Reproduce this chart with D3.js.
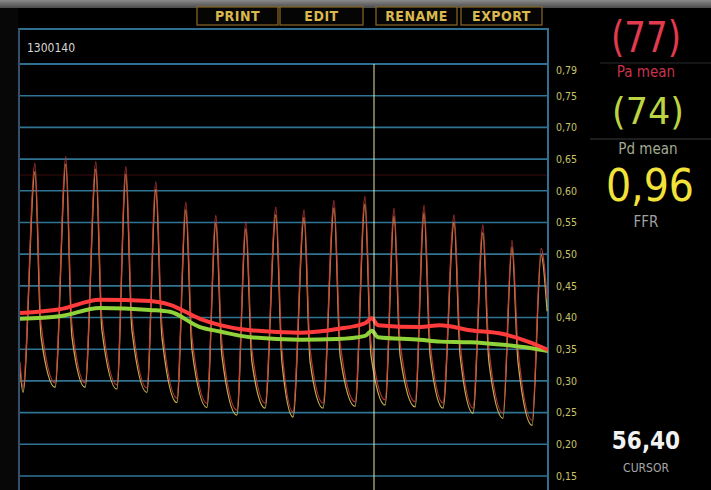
<!DOCTYPE html>
<html>
<head>
<meta charset="utf-8">
<script src="https://cdn.jsdelivr.net/npm/d3@7"></script>
<style>
  body { margin: 0; background: #000; overflow: hidden; }
  svg { display: block; }
  text { font-family: "Liberation Sans Narrow", "DejaVu Sans Condensed", "Liberation Sans", sans-serif; }
</style>
</head>
<body>
<svg id="chart" width="711" height="490"></svg>
<script>
// ---- data (time in s, pressure ratio units) ----
const troughT = [44.70, 45.77, 46.77, 47.83, 48.83, 49.83, 50.83, 51.83, 52.77, 53.70, 54.70, 55.77, 56.77, 57.77, 58.70, 59.70, 60.70, 61.67];
const peakT   = [45.10, 46.13, 47.13, 48.13, 49.13, 50.13, 51.13, 52.13, 53.13, 54.07, 55.07, 56.10, 57.07, 58.07, 59.07, 60.03, 61.00, 61.97];
const kneeT   = [45.30, 46.33, 47.33, 48.33, 49.33, 50.33, 51.33, 52.33, 53.33, 54.27, 55.27, 56.30, 57.27, 58.27, 59.27, 60.23, 61.20, 62.17];

const paTrough = [0.289, 0.297, 0.297, 0.294, 0.289, 0.273, 0.265, 0.254, 0.265, 0.251, 0.265, 0.267, 0.270, 0.267, 0.265, 0.257, 0.249, 0.238];
const paPeak   = [0.643, 0.654, 0.646, 0.638, 0.614, 0.582, 0.561, 0.551, 0.574, 0.570, 0.585, 0.591, 0.572, 0.577, 0.562, 0.546, 0.522, 0.509];
const paKnee   = [0.39, 0.39, 0.40, 0.40, 0.39, 0.37, 0.36, 0.35, 0.35, 0.35, 0.36, 0.36, 0.36, 0.36, 0.36, 0.35, 0.35, 0.43];

const pdTrough = [0.282, 0.290, 0.290, 0.287, 0.282, 0.266, 0.258, 0.246, 0.257, 0.243, 0.257, 0.260, 0.262, 0.259, 0.257, 0.249, 0.241, 0.230];
const pdPeak   = [0.630, 0.642, 0.634, 0.626, 0.602, 0.570, 0.549, 0.540, 0.562, 0.558, 0.573, 0.579, 0.560, 0.565, 0.550, 0.534, 0.511, 0.498];
const pdKnee   = [0.37, 0.37, 0.38, 0.38, 0.37, 0.35, 0.34, 0.33, 0.33, 0.33, 0.34, 0.34, 0.34, 0.34, 0.34, 0.33, 0.33, 0.41];

const startT = 44.60, paStart = 0.33, pdStart = 0.32;

const meanT  = [44.60, 45.93, 47.27, 48.93, 49.60, 50.60, 51.27, 52.27, 53.93, 55.17, 56.10, 56.33, 56.53, 57.93, 58.60, 59.60, 60.70, 61.60, 62.20];
const paMean = [0.407, 0.413, 0.428, 0.426, 0.420, 0.398, 0.388, 0.380, 0.376, 0.382, 0.391, 0.399, 0.388, 0.385, 0.388, 0.380, 0.374, 0.361, 0.349];
const pdMean = [0.398, 0.402, 0.415, 0.412, 0.409, 0.385, 0.378, 0.369, 0.365, 0.366, 0.371, 0.379, 0.369, 0.365, 0.362, 0.361, 0.357, 0.352, 0.347];

const gridVals  = [0.75, 0.70, 0.65, 0.60, 0.55, 0.50, 0.45, 0.40, 0.35, 0.30, 0.25, 0.20, 0.15];
const tickVals  = [0.79, 0.75, 0.70, 0.65, 0.60, 0.55, 0.50, 0.45, 0.40, 0.35, 0.30, 0.25, 0.20, 0.15];
const cursorT = 56.40;
const buttons = ["PRINT", "EDIT", "RENAME", "EXPORT"];
const recordId = "1300140";
const paMeanLabel = "(77)", pdMeanLabel = "(74)", ffrLabel = "0,96";

// ---- layout ----
const W = 711, H = 490;
const plot = { left: 20, right: 548, top: 64, bottom: 490 };

const svg = d3.select("#chart");
const fmt = d => d.toFixed(2).replace(".", ",");

const x = d3.scaleLinear().domain([44.60, 62.20]).range([plot.left, plot.right]);
const y = d3.scaleLinear().domain([0.15, 0.80]).range([476, plot.top]);

// background
svg.append("rect").attr("width", W).attr("height", H).attr("fill", "#000");
svg.append("rect").attr("width", 18).attr("y", 8).attr("height", H).attr("fill", "#070707");

// top grey strip
const defs = svg.append("defs");
const grad = defs.append("linearGradient").attr("id", "topbar").attr("x1", 0).attr("x2", 0).attr("y1", 0).attr("y2", 1);
grad.append("stop").attr("offset", "0%").attr("stop-color", "#8a8a8a");
grad.append("stop").attr("offset", "100%").attr("stop-color", "#4a4a4a");
svg.append("rect").attr("width", W).attr("height", 8).attr("fill", "url(#topbar)");

// buttons
const btnX = [197, 280, 376, 461], btnW = [81, 83, 81, 81];
const btn = svg.append("g").selectAll("g").data(buttons).join("g");
btn.append("rect")
  .attr("x", (d, i) => btnX[i]).attr("y", 7).attr("width", (d, i) => btnW[i]).attr("height", 18)
  .attr("fill", "#050505").attr("stroke", "#8a6a24").attr("stroke-width", 1.2);
btn.append("text")
  .attr("x", (d, i) => btnX[i] + btnW[i] / 2).attr("y", 21)
  .attr("text-anchor", "middle").attr("fill", "#d9b84e")
  .attr("font-size", 14).attr("font-weight", "bold").attr("letter-spacing", 0.5)
  .text(d => d);

// title box
svg.append("rect").attr("x", 19).attr("y", 29).attr("width", 529).attr("height", 35)
  .attr("fill", "#000").attr("stroke", "#2f6f90").attr("stroke-width", 2);
svg.append("text").attr("x", 27).attr("y", 52).attr("fill", "#d8d8d8").attr("font-size", 12).text(recordId);

// clip
defs.append("clipPath").attr("id", "clip").append("rect")
  .attr("x", plot.left).attr("y", plot.top).attr("width", plot.right - plot.left).attr("height", plot.bottom - plot.top);

// grid
const grid = svg.append("g");
grid.selectAll("line.major").data(gridVals).join("line").attr("class", "major")
  .attr("x1", plot.left).attr("x2", plot.right)
  .attr("y1", d => y(d)).attr("y2", d => y(d))
  .attr("stroke", "#2f7493").attr("stroke-width", 1.6);
grid.append("line").attr("x1", plot.left).attr("x2", plot.right)
  .attr("y1", y(0.625)).attr("y2", y(0.625)).attr("stroke", "#2a0909").attr("stroke-width", 1.5);

// frame verticals
svg.append("line").attr("x1", 19).attr("x2", 19).attr("y1", 29).attr("y2", H).attr("stroke", "#34506a").attr("stroke-width", 2);
svg.append("line").attr("x1", 548).attr("x2", 548).attr("y1", 29).attr("y2", H).attr("stroke", "#2f6f90").attr("stroke-width", 2);

// y tick labels
const axis = d3.axisRight(y).tickValues(tickVals).tickFormat(fmt).tickSize(0).tickPadding(0);
const ax = svg.append("g").attr("transform", "translate(556,0)").call(axis);
ax.select(".domain").remove();
ax.selectAll("text").attr("fill", "#c9c46a").attr("font-size", 10.5)
  .attr("font-family", "\"Liberation Sans Narrow\", \"DejaVu Sans Condensed\", sans-serif");

// build pulsatile series from read key points
function buildSeries(start, tr, pk, kn) {
  const pts = [[startT, start]];
  troughT.forEach((t, i) => {
    pts.push([t, tr[i]]);
    pts.push([peakT[i], pk[i]]);
    pts.push([kneeT[i], kn[i]]);
  });
  return pts;
}
const paSeries = buildSeries(paStart, paTrough, paPeak, paKnee);
const pdSeries = buildSeries(pdStart, pdTrough, pdPeak, pdKnee);

const line = d3.line().x(d => x(d[0])).y(d => y(d[1])).curve(d3.curveMonotoneX);
const traces = svg.append("g").attr("clip-path", "url(#clip)");

traces.append("path").datum(pdSeries).attr("d", line)
  .attr("fill", "none").attr("stroke", "#d6bf55").attr("stroke-width", 1.3).attr("opacity", 0.9);
traces.append("path").datum(paSeries).attr("d", line)
  .attr("fill", "none").attr("stroke", "#c8383a").attr("stroke-width", 1.3).attr("opacity", 0.9);

const meanLine = d3.line().x(d => x(d[0])).y(d => y(d[1])).curve(d3.curveMonotoneX);
traces.append("path").datum(meanT.map((t, i) => [t, pdMean[i]])).attr("d", meanLine)
  .attr("fill", "none").attr("stroke", "#8fd23a").attr("stroke-width", 4);
traces.append("path").datum(meanT.map((t, i) => [t, paMean[i]])).attr("d", meanLine)
  .attr("fill", "none").attr("stroke", "#ff3b3b").attr("stroke-width", 4);

// cursor
svg.append("line").attr("x1", x(cursorT)).attr("x2", x(cursorT)).attr("y1", plot.top).attr("y2", H)
  .attr("stroke", "#e6e6a8").attr("stroke-width", 1);

// right panel
const rp = svg.append("g");
rp.append("line").attr("x1", 600).attr("x2", W).attr("y1", 63).attr("y2", 63).attr("stroke", "#2a2a2a");
rp.append("line").attr("x1", 590).attr("x2", W).attr("y1", 139).attr("y2", 139).attr("stroke", "#3a3a3a");
const cx = 646;
rp.append("text").attr("x", cx).attr("y", 52).attr("text-anchor", "middle")
  .attr("fill", "#e23a4e").attr("font-size", 42)
  .attr("textLength", 70).attr("lengthAdjust", "spacingAndGlyphs").text(paMeanLabel);
rp.append("text").attr("x", cx).attr("y", 77).attr("text-anchor", "middle")
  .attr("fill", "#c9324a").attr("font-size", 15).text("Pa mean");
rp.append("text").attr("x", 648).attr("y", 124).attr("text-anchor", "middle")
  .attr("fill", "#bcd342").attr("font-size", 38)
  .attr("textLength", 72).attr("lengthAdjust", "spacingAndGlyphs").text(pdMeanLabel);
rp.append("text").attr("x", 648).attr("y", 154).attr("text-anchor", "middle")
  .attr("fill", "#a3aa92").attr("font-size", 15).text("Pd mean");
rp.append("text").attr("x", 650).attr("y", 201).attr("text-anchor", "middle")
  .attr("fill", "#f2e23a").attr("font-size", 44).text(ffrLabel);
rp.append("text").attr("x", 646).attr("y", 227).attr("text-anchor", "middle")
  .attr("fill", "#a0a0a0").attr("font-size", 15).text("FFR");
rp.append("text").attr("x", 646).attr("y", 449).attr("text-anchor", "middle")
  .attr("fill", "#f2f2f2").attr("font-size", 24).attr("font-weight", "bold").text(fmt(cursorT));
rp.append("text").attr("x", 646).attr("y", 472).attr("text-anchor", "middle")
  .attr("fill", "#a8a8a8").attr("font-size", 12).text("CURSOR");
</script>
</body>
</html>
